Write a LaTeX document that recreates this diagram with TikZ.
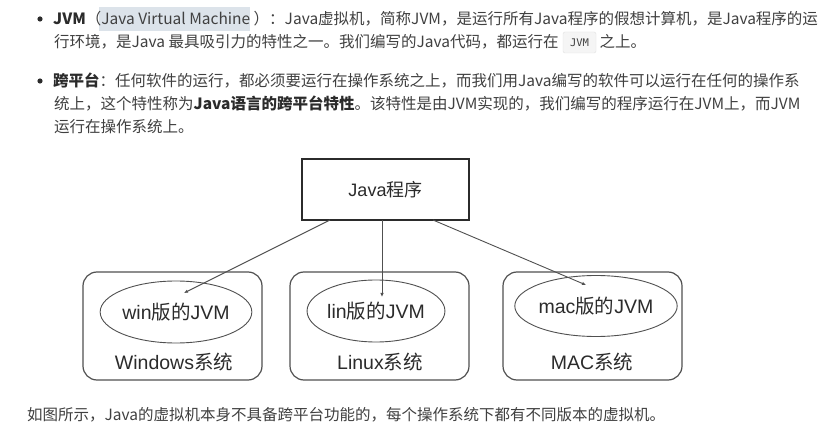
\documentclass[tikz,border=0pt]{standalone}
\usepackage{fontspec}
\setmainfont{Noto Sans CJK SC}
\newfontfamily\cjk{Noto Sans CJK SC}
\newfontfamily\ltn{Liberation Sans}
\newfontfamily\mymono{DejaVu Sans Mono}
\usetikzlibrary{shapes.geometric,arrows.meta}
\definecolor{txt}{HTML}{404040}
\definecolor{btxt}{HTML}{2B2B2B}
\definecolor{ln}{HTML}{505050}
\definecolor{hl}{HTML}{DCE3EA}
\definecolor{codebg}{HTML}{F5F5F5}
\definecolor{codebd}{HTML}{E2E2E2}
\tikzset{
  bodytext/.style={anchor=west,inner sep=0pt,text=txt,font=\fontsize{15.5}{18}\selectfont},
  osbox/.style={draw=ln,line width=1.2pt,rounded corners=14pt,minimum width=179pt,minimum height=108pt},
  jvm/.style={draw=ln,ellipse,line width=0.9pt,inner sep=0pt,text=btxt,font=\fontsize{19.5}{22}\selectfont},
  oslabel/.style={inner sep=0pt,text=btxt,font=\fontsize{19.5}{22}\selectfont},
  conn/.style={draw=ln,line width=0.9pt,-{Latex[length=4pt,width=3.5pt]}},
}
\begin{document}
\begin{tikzpicture}[x=1pt,y=-1pt]
\useasboundingbox[fill=white] (0,0) rectangle (833,438);
% bullets
\fill[btxt] (40,19) circle (2.6);
\fill[btxt] (40,81) circle (2.6);
% highlight and code box
\fill[hl] (99,7) rectangle (250,31);
\filldraw[fill=codebg,draw=codebd,rounded corners=2pt] (563,32) rectangle (596,53);
\node[text=txt,font=\mymono\fontsize{10.5}{12}\selectfont,inner sep=0pt] (code) at (579.5,43) {JVM};
% text lines
\node[bodytext] (t1) at (53,19) {\textbf{\color{btxt}JVM}（Java Virtual Machine ）：Java虚拟机，简称JVM，是运行所有Java程序的假想计算机，是Java程序的运};
\node[bodytext] (t2) at (54,42) {行环境，是Java 最具吸引力的特性之一。我们编写的Java代码，都运行在\hspace{41pt}之上。};
\node[bodytext] (t3) at (53,81) {\textbf{\color{btxt}跨平台}：任何软件的运行，都必须要运行在操作系统之上，而我们用Java编写的软件可以运行在任何的操作系};
\node[bodytext] (t4) at (54,104) {统上，这个特性称为\textbf{\color{btxt}Java语言的跨平台特性}。该特性是由JVM实现的，我们编写的程序运行在JVM上，而JVM};
\node[bodytext] (t5) at (54,127) {运行在操作系统上。};
\node[bodytext] (t6) at (27,415) {如图所示，Java的虚拟机本身不具备跨平台功能的，每个操作系统下都有不同版本的虚拟机。};
% diagram
\node[draw=btxt,line width=1.4pt,minimum width=167pt,minimum height=61pt,text=btxt,font=\fontsize{18}{22}\selectfont] (java) at (385.5,189.5) {{\ltn Java}{\cjk 程序}};
\node[osbox] (win) at (172.5,326) {};
\node[osbox] (lin) at (379.5,326) {};
\node[osbox] (mac) at (592.5,326) {};
\node[jvm,minimum width=128pt,minimum height=62pt] (wjvm) at (176,312) {{\ltn win}{\cjk 版的}{\ltn JVM}};
\node[jvm,minimum width=128pt,minimum height=62pt] (ljvm) at (376,311) {{\ltn lin}{\cjk 版的}{\ltn JVM}};
\node[jvm,minimum width=130pt,minimum height=61pt] (mjvm) at (596,306) {{\ltn mac}{\cjk 版的}{\ltn JVM}};
\node[oslabel] (wl) at (174,362) {{\ltn Windows}{\cjk 系统}};
\node[oslabel] (ll) at (380,362) {{\ltn Linux}{\cjk 系统}};
\node[oslabel] (ml) at (592,362) {{\ltn MAC}{\cjk 系统}};
% connectors
\coordinate (s1) at (330,220);
\coordinate (e1) at (184,293);
\coordinate (s2) at (382,220);
\coordinate (e2) at (382,297);
\coordinate (s3) at (433,220);
\coordinate (e3) at (586,285);
\draw[conn] (s1) -- (e1);
\draw[conn] (s2) -- (e2);
\draw[conn] (s3) -- (e3);
\end{tikzpicture}
\end{document}
